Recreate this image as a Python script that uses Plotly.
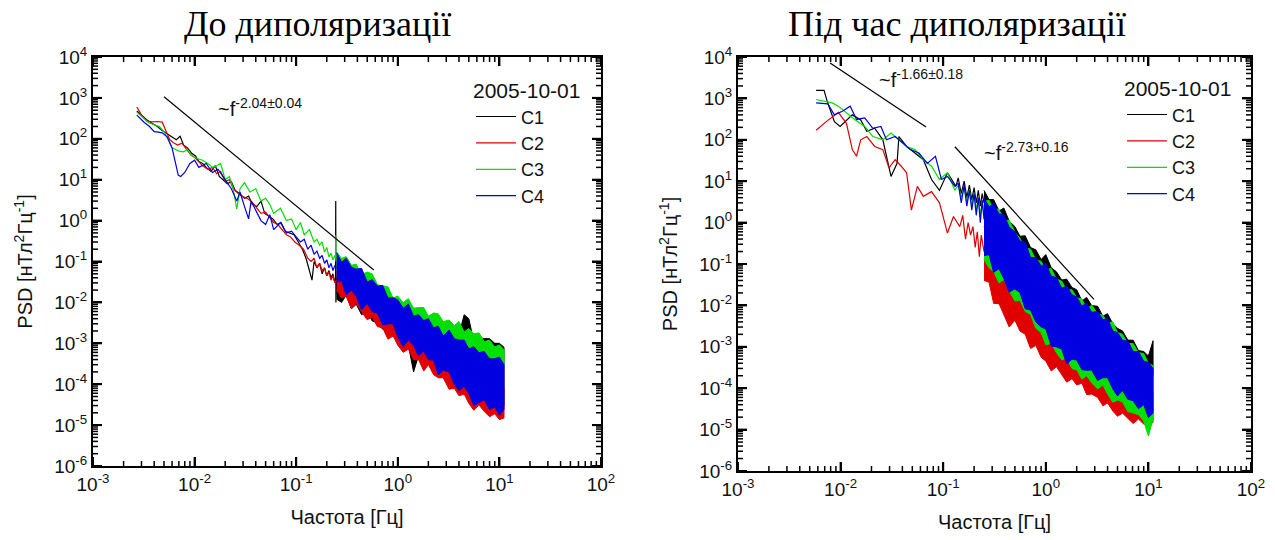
import math
import plotly.graph_objects as go
from plotly.subplots import make_subplots

# ---------------- data ----------------
# Left panel "До диполяризації": low-frequency (line) parts
L_c1_f = [0.0027,0.0030,0.0034,0.0038,0.0043,0.0048,0.0054,0.0060,0.0066,0.0072,0.0078,0.0085,0.0093,0.0102,0.011,0.012,0.013,0.0145,0.016,0.0175,0.019,0.021,0.023,0.025,0.028,0.031,0.034,0.037,0.041,0.045,0.049,0.054,0.059,0.065,0.071,0.078,0.086,0.095,0.105,0.115,0.125,0.135,0.143,0.15,0.16,0.17,0.18,0.19,0.20,0.21,0.22,0.23,0.24,0.244,0.245,0.246,0.25]
L_c1_p = [480,380,290,240,200,160,130,110,95,115,70,60,45,38,28,25,20,16,22,12,10,8,9,5.5,4.5,3.5,4,2.5,2.2,3.0,1.5,1.3,1.1,0.8,0.9,0.55,0.5,0.45,0.3,0.2,0.12,0.06,0.035,0.1,0.07,0.09,0.05,0.07,0.045,0.06,0.04,0.05,0.03,0.04,3.0,0.01,0.04]
L_c2_f = [0.0027,0.0030,0.0034,0.0038,0.0043,0.0048,0.0052,0.0057,0.0062,0.0068,0.0075,0.0083,0.0092,0.010,0.011,0.012,0.0135,0.015,0.0165,0.018,0.020,0.022,0.024,0.027,0.030,0.033,0.037,0.041,0.045,0.050,0.055,0.060,0.066,0.073,0.080,0.088,0.097,0.107,0.118,0.13,0.14,0.15,0.16,0.17,0.18,0.19,0.20,0.21,0.22,0.23,0.24,0.25]
L_c2_p = [600,380,270,260,265,255,160,95,80,70,78,55,40,35,28,22,18,20,14,16,9,10,6,4.5,3.8,3.5,2.8,2.0,1.5,1.6,1.2,0.9,0.8,0.6,0.45,0.4,0.3,0.25,0.2,0.12,0.1,0.12,0.07,0.09,0.06,0.07,0.045,0.055,0.035,0.045,0.03,0.035]
L_c3_f = [0.0027,0.0031,0.0035,0.004,0.0045,0.005,0.0055,0.006,0.0065,0.007,0.0078,0.0085,0.0093,0.010,0.011,0.012,0.0135,0.015,0.0165,0.018,0.020,0.022,0.024,0.026,0.028,0.031,0.035,0.040,0.045,0.050,0.055,0.060,0.070,0.080,0.090,0.10,0.11,0.12,0.135,0.15,0.16,0.17,0.18,0.19,0.20,0.21,0.22,0.23,0.24,0.244,0.245,0.246,0.25]
L_c3_p = [450,320,250,220,200,150,90,60,55,50,48,55,40,35,32,30,25,20,22,25,10,12,6,1.9,6,8.5,5,6,3,3.5,2.5,1.5,2,1.0,1.1,0.6,0.9,0.45,0.6,0.3,0.35,0.25,0.3,0.17,0.22,0.13,0.16,0.11,0.14,0.12,0.43,0.1,0.14]
L_c4_f = [0.0027,0.0032,0.0036,0.004,0.0044,0.0048,0.0054,0.006,0.0065,0.0069,0.0073,0.008,0.009,0.010,0.011,0.012,0.013,0.015,0.017,0.020,0.023,0.026,0.028,0.031,0.034,0.036,0.040,0.045,0.050,0.055,0.060,0.070,0.080,0.090,0.10,0.11,0.12,0.13,0.14,0.15,0.16,0.17,0.18,0.19,0.20,0.21,0.22,0.23,0.24,0.25]
L_c4_p = [380,250,200,150,145,140,110,60,25,13,12,15,25,30,20,22,25,15,18,10,6,3,5,2.2,1.1,3,1.8,1.0,0.8,1.4,0.6,0.9,0.5,0.55,0.4,0.3,0.35,0.2,0.25,0.15,0.18,0.12,0.14,0.09,0.11,0.07,0.09,0.06,0.08,0.07]

# Left panel: dense high-frequency parts (upper / lower envelopes)
L_band_f = [0.25,0.28,0.31,0.35,0.39,0.44,0.5,0.56,0.63,0.71,0.8,0.9,1.0,1.13,1.27,1.43,1.6,1.8,2.0,2.25,2.5,2.8,3.2,3.6,4.0,4.5,5.0,5.6,6.3,7.1,8.0,9.0,10.0,11.1]
L_c1_hi = [0.1,0.07,0.075,0.045,0.045,0.03,0.03,0.02,0.019,0.013,0.012,0.0075,0.0075,0.0055,0.0055,0.0038,0.0037,0.0028,0.003,0.0023,0.0024,0.0018,0.002,0.0015,0.0016,0.005,0.004,0.0011,0.0014,0.0013,0.0013,0.001,0.001,0.0008]
L_c1_lo = [0.012,0.01,0.015,0.007,0.009,0.005,0.006,0.0035,0.0032,0.0022,0.0021,0.0015,0.0013,0.0009,0.0009,0.0002,0.0005,0.00035,0.00033,0.00022,0.00022,0.00016,0.00016,0.00011,0.00011,0.00008,0.00009,0.00006,0.00007,0.000045,0.00005,0.000036,0.000038,0.00003]
L_c2_hi = [0.06,0.045,0.04,0.03,0.025,0.02,0.015,0.012,0.009,0.007,0.0055,0.004,0.003,0.0025,0.002,0.0016,0.0013,0.001,0.0008,0.0007,0.0006,0.0005,0.0004,0.00035,0.0003,0.00025,0.0002,0.00018,0.00015,0.00013,0.00011,0.0001,0.00009,0.00008]
L_c2_lo = [0.02,0.0128,0.0143,0.007,0.0096,0.0059,0.00375,0.0044,0.00255,0.0024,0.00126,0.0015,0.0009,0.0006,0.00072,0.0004,0.0004,0.00021,0.0003,0.00017,0.000144,0.000143,0.000075,0.00008,0.000052,0.0000575,0.000034,0.000023,0.0000308,0.0000216,0.000016,0.0000189,0.0000136,0.000015]
L_c3_hi = [0.17,0.119,0.132,0.081,0.086,0.048,0.055,0.05,0.027,0.026,0.024,0.0128,0.0143,0.0099,0.0124,0.0072,0.0075,0.0075,0.0046,0.0055,0.0053,0.0034,0.0037,0.0027,0.0034,0.0019,0.0023,0.0017,0.0018,0.0011,0.0012,0.00081,0.00092,0.0007]
L_c3_lo = [0.06,0.055,0.04,0.035,0.027,0.024,0.018,0.015,0.012,0.01,0.008,0.0065,0.005,0.0045,0.0038,0.0033,0.0028,0.0025,0.0021,0.0019,0.0017,0.0015,0.0013,0.0011,0.001,0.0009,0.0008,0.0007,0.0006,0.0005,0.00045,0.0004,0.00035,0.0003]
L_c4_hi = [0.165,0.096,0.12,0.072,0.065,0.068,0.0315,0.036,0.025,0.026,0.0128,0.013,0.0115,0.0072,0.0091,0.0046,0.005,0.0036,0.004,0.0024,0.0026,0.0015,0.0021,0.0013,0.0012,0.0012,0.00072,0.00083,0.00059,0.00063,0.00041,0.00042,0.00046,0.0003]
L_c4_lo = [0.0315,0.034,0.0154,0.02,0.014,0.0066,0.0096,0.0059,0.0055,0.0028,0.003,0.003,0.00144,0.00084,0.00121,0.0009,0.00049,0.00066,0.0004,0.00039,0.00017,0.00022,0.0002,0.0001,0.00007,0.000088,0.00006,0.00003,0.000036,0.000042,0.000024,0.000028,0.0000175,0.000024]

# Right panel "Під час диполяризації": low-frequency (line) parts
R_c1_f = [0.00577,0.0069,0.0074,0.0087,0.0099,0.0114,0.013,0.0157,0.018,0.0215,0.0258,0.031,0.0355,0.037,0.044,0.053,0.064,0.077,0.092,0.11,0.133,0.14,0.15,0.16,0.17,0.18,0.19,0.20,0.21,0.22,0.23,0.24,0.25]
R_c1_p = [1560,1560,850,275,210,300,400,300,160,190,100,13,27,120,69,48,33,11,6,16,7.5,12,5,10,4,8,3.5,7,3,6,2.5,5,3]
R_c2_f = [0.00577,0.00725,0.0095,0.0114,0.013,0.0143,0.0157,0.018,0.0215,0.0258,0.0296,0.034,0.039,0.044,0.049,0.056,0.064,0.077,0.092,0.11,0.126,0.145,0.155,0.165,0.175,0.185,0.195,0.205,0.215,0.225,0.235,0.25]
R_c2_p = [170,275,460,250,58,40,100,120,69,58,21,33,23,16,2,7.5,4.3,5.6,3,0.56,1.4,0.8,1.5,0.4,1.0,0.5,0.8,0.25,0.6,0.15,0.5,0.2]
R_c3_f = [0.00577,0.00725,0.0083,0.0095,0.0114,0.0137,0.0172,0.0206,0.0258,0.031,0.037,0.044,0.053,0.064,0.077,0.092,0.11,0.13,0.14,0.15,0.16,0.17,0.18,0.19,0.20,0.21,0.22,0.23,0.24,0.25]
R_c3_p = [940,850,780,650,450,310,210,120,100,145,100,69,58,33,23,11,16,6,8,4,7,3,6,2.5,5,2,4,1.5,3,1.5]
R_c4_f = [0.00577,0.0075,0.0087,0.0104,0.0124,0.0143,0.0172,0.0206,0.0247,0.028,0.034,0.040,0.048,0.058,0.070,0.084,0.096,0.11,0.13,0.14,0.15,0.16,0.17,0.18,0.19,0.20,0.21,0.22,0.23,0.24,0.25]
R_c4_p = [780,740,400,490,650,310,340,190,210,100,120,83,58,48,27,40,11,13,7.5,9,3,8,2.5,6,2,5,1.5,4,1,3.5,1.2]

R_band_f = [0.25,0.28,0.31,0.35,0.39,0.44,0.5,0.56,0.63,0.71,0.8,0.9,1.0,1.13,1.27,1.43,1.6,1.8,2.0,2.25,2.5,2.8,3.2,3.6,4.0,4.5,5.0,5.6,6.3,7.1,8.0,9.0,10.0,11.1]
R_c1_hi = [6,3.6,3.6,1.9,2.25,1.08,0.8,0.47,0.48,0.25,0.22,0.128,0.169,0.081,0.065,0.041,0.043,0.027,0.024,0.0128,0.0156,0.0099,0.0095,0.0055,0.0063,0.0036,0.0028,0.0024,0.00145,0.00144,0.00081,0.00077,0.0006,0.0014]
R_c1_lo = [0.8,0.6,0.45,0.32,0.23,0.15,0.1,0.075,0.055,0.04,0.03,0.025,0.02,0.015,0.011,0.008,0.006,0.005,0.004,0.003,0.0025,0.002,0.0015,0.0012,0.001,0.0008,0.0007,0.0006,0.0005,0.0004,0.00033,0.00028,0.00023,0.0002]
R_c2_hi = [1.0,0.9,0.8,0.6,0.45,0.3,0.15,0.12,0.08,0.05,0.035,0.025,0.016,0.012,0.009,0.007,0.005,0.0045,0.004,0.003,0.0025,0.002,0.0015,0.0012,0.001,0.0008,0.0005,0.0004,0.0003,0.00025,0.0002,0.00015,0.0001,0.00008]
R_c2_lo = [0.04,0.036,0.0112,0.011,0.0063,0.003,0.0044,0.0024,0.002,0.00091,0.00108,0.00056,0.00045,0.00026,0.00033,0.00021,0.00014,0.00017,0.00012,0.000132,0.00007,0.000072,0.00006,0.0000375,0.000044,0.000028,0.000021,0.000025,0.0000187,0.000014,0.000018,0.0000136,0.0000128,0.000015]
R_c3_hi = [3.24,3.45,2.1,2.1,1.12,1.14,0.585,0.42,0.24,0.23,0.126,0.116,0.072,0.078,0.043,0.0385,0.023,0.024,0.0153,0.0143,0.008,0.0102,0.0063,0.0058,0.0038,0.004,0.0022,0.002,0.0012,0.0012,0.00072,0.00069,0.0004,0.00035]
R_c3_lo = [0.13,0.08,0.066,0.035,0.042,0.0225,0.0128,0.0132,0.0072,0.006,0.0028,0.0022,0.00112,0.00121,0.00072,0.00048,0.00054,0.0003,0.00028,0.000165,0.0002,0.000135,0.000096,0.00012,0.000072,0.0000455,0.000052,0.0000462,0.0000272,0.0000252,0.000023,0.000016,0.000007,0.000018]
R_c4_hi = [3.85,2.4,2.9,1.6,1.56,0.77,0.6,0.36,0.34,0.144,0.143,0.09,0.102,0.051,0.047,0.026,0.029,0.018,0.016,0.0096,0.0114,0.0068,0.0072,0.0045,0.0048,0.0024,0.0022,0.00144,0.00138,0.00077,0.00077,0.00045,0.00042,0.0003]
R_c4_lo = [0.16,0.168,0.063,0.077,0.045,0.021,0.025,0.0204,0.0083,0.0077,0.004,0.003,0.0027,0.00105,0.00099,0.00088,0.00039,0.0005,0.00048,0.00028,0.00027,0.000275,0.000154,0.00018,0.00018,0.000096,0.000065,0.000088,0.000054,0.00005,0.000032,0.00004,0.0000196,0.000025]

# Power-law guide lines (end points)
L_fit_f = [0.005, 0.58]
L_fit_p = [1070, 0.062]
R_fit1_f = [0.0079, 0.068]
R_fit1_p = [7160, 204]
R_fit2_f = [0.13, 2.95]
R_fit2_p = [68, 0.014]

names = ["C1", "C2", "C3", "C4"]
colors = ["#000000", "#e00000", "#00e000", "#0000e0"]

x_tickvals = [1e-3, 1e-2, 1e-1, 1e0, 1e1, 1e2]
x_ticktext = ["10<sup>-3</sup>", "10<sup>-2</sup>", "10<sup>-1</sup>", "10<sup>0</sup>", "10<sup>1</sup>", "10<sup>2</sup>"]
y_tickvals = [1e-6, 1e-5, 1e-4, 1e-3, 1e-2, 1e-1, 1e0, 1e1, 1e2, 1e3, 1e4]
y_ticktext = ["10<sup>-6</sup>", "10<sup>-5</sup>", "10<sup>-4</sup>", "10<sup>-3</sup>", "10<sup>-2</sup>",
              "10<sup>-1</sup>", "10<sup>0</sup>", "10<sup>1</sup>", "10<sup>2</sup>", "10<sup>3</sup>", "10<sup>4</sup>"]
x_minor = [k * 10.0 ** e for e in range(-3, 2) for k in range(2, 10)]
y_minor = [k * 10.0 ** e for e in range(-6, 4) for k in range(2, 10)]

# ---------------- figure ----------------
fig = make_subplots(rows=1, cols=2)

def add_panel(col, lines, bands, band_f, legend):
    for i in range(4):
        f, p = lines[i]
        hi, lo = bands[i]
        fig.add_trace(go.Scatter(x=band_f + band_f[::-1], y=hi + lo[::-1],
                                 mode="lines", fill="toself", fillcolor=colors[i],
                                 line=dict(color=colors[i], width=1),
                                 showlegend=False, hoverinfo="skip"),
                      row=1, col=col)
        fig.add_trace(go.Scatter(x=f, y=p, mode="lines", name=names[i],
                                 line=dict(color=colors[i], width=1.2),
                                 legend=legend, showlegend=True),
                      row=1, col=col)

add_panel(1,
          [(L_c1_f, L_c1_p), (L_c2_f, L_c2_p), (L_c3_f, L_c3_p), (L_c4_f, L_c4_p)],
          [(L_c1_hi, L_c1_lo), (L_c2_hi, L_c2_lo), (L_c3_hi, L_c3_lo), (L_c4_hi, L_c4_lo)],
          L_band_f, "legend")
add_panel(2,
          [(R_c1_f, R_c1_p), (R_c2_f, R_c2_p), (R_c3_f, R_c3_p), (R_c4_f, R_c4_p)],
          [(R_c1_hi, R_c1_lo), (R_c2_hi, R_c2_lo), (R_c3_hi, R_c3_lo), (R_c4_hi, R_c4_lo)],
          R_band_f, "legend2")

for (ff, pp, col) in [(L_fit_f, L_fit_p, 1), (R_fit1_f, R_fit1_p, 2), (R_fit2_f, R_fit2_p, 2)]:
    fig.add_trace(go.Scatter(x=ff, y=pp, mode="lines", line=dict(color="black", width=1.2),
                             showlegend=False), row=1, col=col)

W, H = 1275, 540
SANS = "Liberation Sans, Arial, sans-serif"
tickfont = dict(family=SANS, size=19, color="#111")
titlefont = dict(family=SANS, size=20, color="#111")
XR = [-3, 2]
YR = [-6, 4]

def xax(domain):
    return dict(type="log", range=XR, tickmode="array", tickvals=x_tickvals, ticktext=x_ticktext,
                domain=domain, showgrid=False, zeroline=False, automargin=False,
                showline=True, linecolor="black", linewidth=2, mirror="ticks",
                ticks="inside", ticklen=9, tickwidth=2, tickcolor="black",
                tickfont=tickfont,
                title=dict(text="Частота [Гц]", font=titlefont, standoff=16))

def yax(domain):
    return dict(type="log", range=YR, tickmode="array", tickvals=y_tickvals, ticktext=y_ticktext,
                domain=domain, showgrid=False, zeroline=False, automargin=False,
                showline=True, linecolor="black", linewidth=2, mirror="ticks",
                ticks="inside", ticklen=9, tickwidth=2, tickcolor="black",
                tickfont=tickfont,
                title=dict(text="PSD [нТл<sup>2</sup>Гц<sup>-1</sup>]", font=titlefont, standoff=16))

# tick marks on all four sides of each frame (drawn as shapes in axis-domain units)
def frame_ticks(xd, yd):
    shapes = []
    for vals, ln, wd in [(x_tickvals, 9, 2), (x_minor, 5, 1.5)]:
        for v in vals:
            fx = (math.log10(v) - XR[0]) / (XR[1] - XR[0])
            for anc, sgn in [(0, 1), (1, -1)]:
                shapes.append(dict(type="line", xref=xd, yref=yd, x0=fx, x1=fx,
                                   ysizemode="pixel", yanchor=anc, y0=0, y1=sgn * ln,
                                   line=dict(color="black", width=wd), layer="above"))
    for vals, ln, wd in [(y_tickvals, 9, 2), (y_minor, 5, 1.5)]:
        for v in vals:
            fy = (math.log10(v) - YR[0]) / (YR[1] - YR[0])
            for anc, sgn in [(0, 1), (1, -1)]:
                shapes.append(dict(type="line", xref=xd, yref=yd, y0=fy, y1=fy,
                                   xsizemode="pixel", xanchor=anc, x0=0, x1=sgn * ln,
                                   line=dict(color="black", width=wd), layer="above"))
    return shapes

leg_common = dict(xanchor="left", yanchor="top", bgcolor="rgba(0,0,0,0)",
                  font=dict(family=SANS, size=18, color="#111"),
                  title=dict(text="2005-10-01", font=dict(family=SANS, size=21, color="#111")),
                  tracegroupgap=0, itemwidth=40)

fig.update_layout(
    width=W, height=H, margin=dict(l=0, r=0, t=0, b=0, autoexpand=False),
    paper_bgcolor="white", plot_bgcolor="white",
    xaxis=xax([93 / W, 601 / W]), yaxis=yax([1 - 466 / H, 1 - 57 / H]),
    xaxis2=xax([738 / W, 1251 / W]), yaxis2=yax([1 - 471 / H, 1 - 57 / H]),
    legend=dict(x=471 / W, y=1 - 71 / H, **leg_common),
    legend2=dict(x=1122 / W, y=1 - 69 / H, **leg_common),
    shapes=frame_ticks("x domain", "y domain") + frame_ticks("x2 domain", "y2 domain"),
)

ann_font = dict(family=SANS, size=20, color="#111")
fig.add_annotation(x=216 / W, y=1 - 108 / H, xref="paper", yref="paper", xanchor="left", yanchor="middle",
                   text="~f<sup>-2.04±0.04</sup>", showarrow=False, font=ann_font)
fig.add_annotation(x=877 / W, y=1 - 79 / H, xref="paper", yref="paper", xanchor="left", yanchor="middle",
                   text="~f<sup>-1.66±0.18</sup>", showarrow=False, font=ann_font)
fig.add_annotation(x=982 / W, y=1 - 151 / H, xref="paper", yref="paper", xanchor="left", yanchor="middle",
                   text="~f<sup>-2.73+0.16</sup>", showarrow=False, font=ann_font)

title_font = dict(family="Liberation Serif, Times New Roman, serif", size=36, color="black")
fig.add_annotation(x=317 / W, y=1 - 24 / H, xref="paper", yref="paper", xanchor="center", yanchor="middle",
                   text="До диполяризації", showarrow=False, font=title_font)
fig.add_annotation(x=957 / W, y=1 - 24 / H, xref="paper", yref="paper", xanchor="center", yanchor="middle",
                   text="Під час диполяризації", showarrow=False, font=title_font)

fig.write_html("out.html")
